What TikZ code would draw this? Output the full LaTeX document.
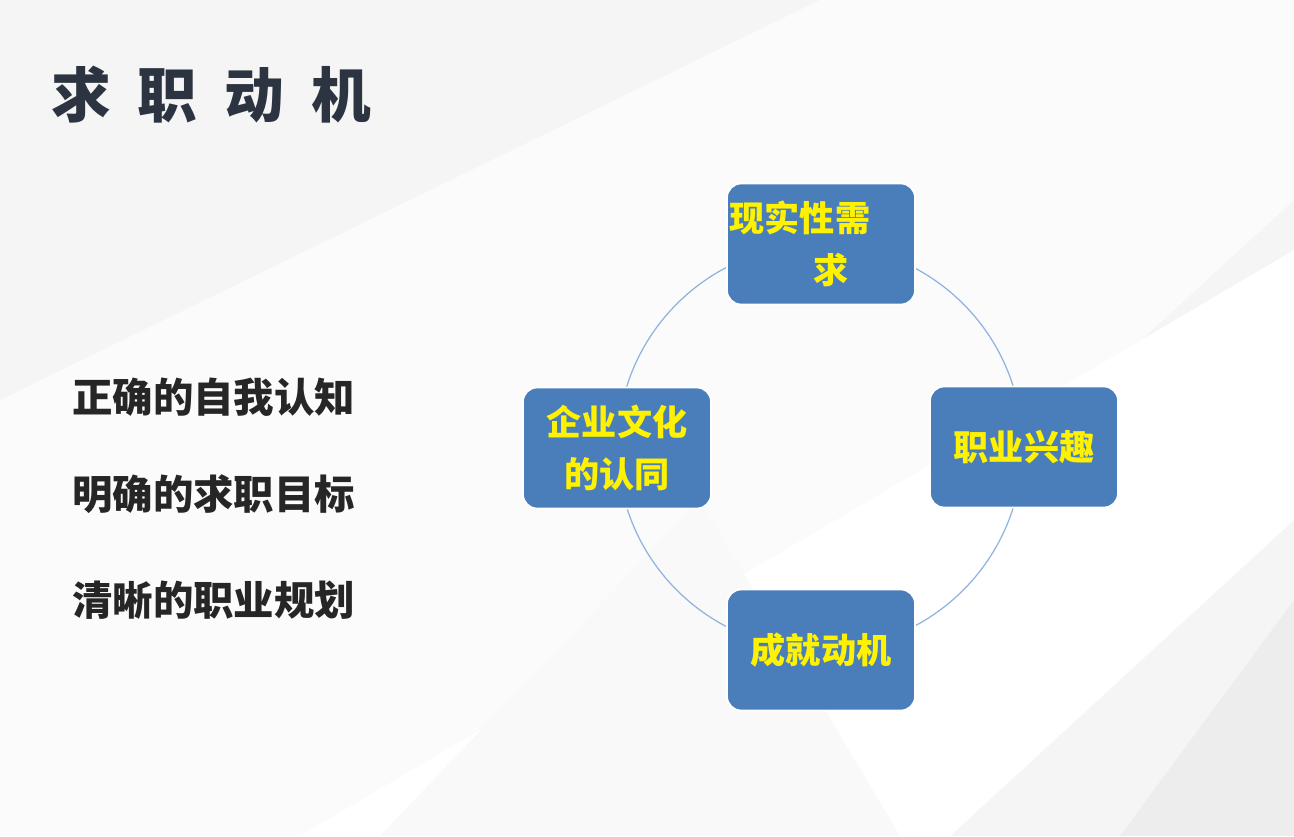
\documentclass[tikz,border=0pt]{standalone}
\usepackage{fontspec}
\setmainfont{Noto Sans CJK SC}
\usetikzlibrary{positioning}
\definecolor{boxblue}{HTML}{4A7EBB}
\definecolor{ringblue}{HTML}{8EB4DE}
\definecolor{titlegray}{HTML}{2B3440}
\begin{document}
\begin{tikzpicture}[x=0.02cm,y=-0.02cm,
  motive/.style={draw=white,line width=1pt,fill=boxblue,rounded corners=8pt,minimum width=3.76cm,minimum height=2.42cm,text=yellow,font=\fontsize{20}{30}\selectfont\bfseries,align=center,inner sep=1pt},
  point/.style={anchor=west,text=black!85,font=\fontsize{23}{26}\selectfont\bfseries}]
\useasboundingbox (0,0) rectangle (1294,836);
% background
\fill[gray!8] (0,0) rectangle (1294,836);
\fill[gray!3] (0,400) -- (820,0) -- (1294,0) -- (1294,200) -- (600,836) -- (0,836) -- cycle;
\fill[white] (300,836) -- (1294,250) -- (1294,520) -- (950,836) -- cycle;
\fill[gray!14] (1120,836) -- (1294,600) -- (1294,836) -- cycle;
\fill[gray!5] (380,836) -- (700,500) -- (900,836) -- cycle;
% title and points
\node[anchor=west,text=titlegray,font=\fontsize{34}{36}\selectfont\bfseries] (title) at (45,95) {求\hspace{0.45em}职\hspace{0.45em}动\hspace{0.45em}机};
\node[point] (p1) at (66,397) {正确的自我认知};
\node[point] (p2) at (66,494) {明确的求职目标};
\node[point] (p3) at (66,600) {清晰的职业规划};
% ring
\coordinate (hub) at (820,447);
\draw[ringblue,line width=0.7pt] (hub) circle[radius=4.05cm];
% motives
\node[motive] (need) at (821,244) {\hspace*{-1.2em}现实性需\\\hspace*{0.6em}求};
\node[motive] (interest) at (1024,447) {职业兴趣};
\node[motive] (achieve) at (821,650) {成就动机};
\node[motive] (culture) at (617,448) {企业文化\\的认同};
\end{tikzpicture}
\end{document}
